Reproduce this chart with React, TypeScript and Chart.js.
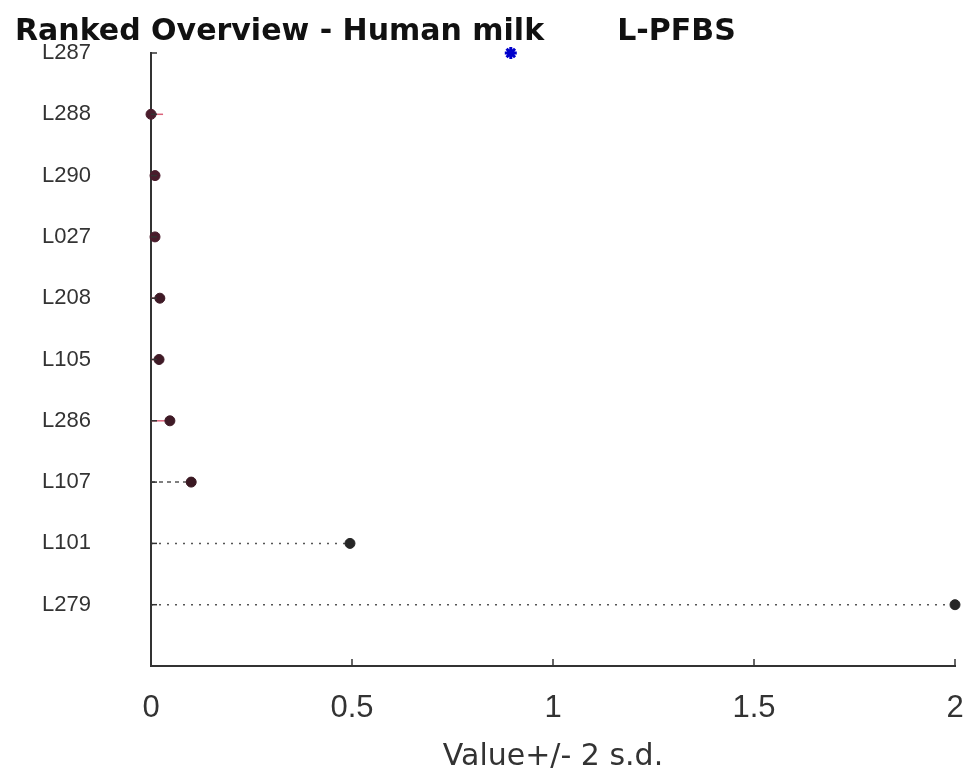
import React, { useEffect, useRef } from 'react';
import { Chart, registerables } from 'chart.js';

Chart.register(...registerables);

// ---- data ----
const names = ['L287', 'L288', 'L290', 'L027', 'L208', 'L105', 'L286', 'L107', 'L101', 'L279'];
const values = [0.895, 0.0, 0.01, 0.01, 0.022, 0.02, 0.047, 0.1, 0.495, 2.0];
const markerColors = ['#0000cc', '#4a1c2c', '#4a1c2c', '#4a1c2c', '#3f1a26', '#3f1a26', '#3f1a26', '#3a1822', '#262626', '#262626'];
const markerStyles = ['star', 'circle', 'circle', 'circle', 'circle', 'circle', 'circle', 'circle', 'circle', 'circle'];
// value +/- 2 s.d. (red bars, clipped at 0)
const errLow = [null, 0, 0, 0, 0, 0, 0, null, null, null];
const errHigh = [null, 0.03, 0.02, 0.02, 0.025, 0.025, 0.045, null, null, null];
// dotted guide lines from 0 to the value
const guideFrom = [null, null, null, null, null, null, null, 0, 0, 0];
const xTickValues = [0, 0.5, 1, 1.5, 2];
const xTickLabels = ['0', '0.5', '1', '1.5', '2'];

const titleText = 'Ranked Overview - Human milk       L-PFBS';
const xTitle = 'Value+/- 2 s.d.';

export default function App() {
  const ref = useRef<HTMLCanvasElement>(null);

  useEffect(() => {
    if (!ref.current) return;
    const rows = names.length;
    const rowY = (i: number) => rows - i;
    const datasets: any[] = [];
    names.forEach((_, i) => {
      if (errLow[i] != null && errHigh[i] != null) {
        datasets.push({
          type: 'line',
          data: [{ x: errLow[i], y: rowY(i) }, { x: errHigh[i], y: rowY(i) }],
          borderColor: 'rgba(210,60,90,0.8)',
          borderWidth: 1.5,
          pointRadius: 0,
          showLine: true,
          clip: false,
          order: 3,
        });
      }
      if (guideFrom[i] != null) {
        datasets.push({
          type: 'line',
          data: [{ x: guideFrom[i], y: rowY(i) }, { x: values[i], y: rowY(i) }],
          borderColor: '#555555',
          borderWidth: 1.5,
          borderDash: i === 7 ? [4, 4] : [2, 6],
          pointRadius: 0,
          showLine: true,
          clip: false,
          order: 2,
        });
      }
    });
    datasets.push({
      type: 'scatter',
      data: values.map((v, i) => ({ x: v, y: rowY(i) })),
      pointStyle: markerStyles,
      pointRadius: markerStyles.map((s) => (s === 'star' ? 6 : 5)),
      pointBorderWidth: markerStyles.map((s) => (s === 'star' ? 3 : 1)),
      backgroundColor: markerColors,
      borderColor: markerColors,
      clip: false,
      order: 1,
    });

    const innerTicks = {
      id: 'innerTicks',
      afterDraw(chart: any) {
        const { ctx, scales, chartArea: a } = chart;
        const x = scales.x;
        const y = scales.y;
        ctx.save();
        ctx.strokeStyle = '#333333';
        ctx.lineWidth = 1.5;
        xTickValues.forEach((v) => {
          if (v === 0) return;
          const px = x.getPixelForValue(v);
          ctx.beginPath();
          ctx.moveTo(px, a.bottom);
          ctx.lineTo(px, a.bottom - 7);
          ctx.stroke();
        });
        names.forEach((_, i) => {
          const py = y.getPixelForValue(rowY(i));
          ctx.beginPath();
          ctx.moveTo(a.left, py);
          ctx.lineTo(a.left + 6, py);
          ctx.stroke();
        });
        ctx.restore();
      },
    };

    const chart = new Chart(ref.current, {
      type: 'scatter',
      data: { datasets },
      options: {
        animation: false,
        responsive: false,
        devicePixelRatio: 1,
        layout: { padding: { left: 15, right: 14, top: 0, bottom: 0 } },
        plugins: {
          legend: { display: false },
          tooltip: { enabled: false },
          title: {
            display: true,
            text: titleText,
            align: 'start',
            color: '#111111',
            font: { family: '"DejaVu Sans"', size: 30, weight: 'bold' },
            padding: { top: 14, bottom: 3 },
          },
        },
        scales: {
          x: {
            type: 'linear',
            min: 0,
            max: 2,
            afterBuildTicks: (s: any) => {
              s.ticks = xTickValues.map((v) => ({ value: v }));
            },
            ticks: {
              callback: (v: any) => {
                const k = xTickValues.indexOf(Number(v));
                return k >= 0 ? xTickLabels[k] : '';
              },
              font: { family: '"Liberation Sans", Arial', size: 31 },
              color: '#333333',
              padding: 24,
              maxRotation: 0,
              autoSkip: false,
            },
            grid: { drawOnChartArea: false, drawTicks: false },
            border: { color: '#333333', width: 2 },
            title: {
              display: true,
              text: xTitle,
              color: '#333333',
              font: { family: '"DejaVu Sans"', size: 30 },
              padding: { top: 0, bottom: 1 },
            },
            afterFit: (s: any) => {
              s.height = 110;
              s.paddingLeft = 0;
              s.paddingRight = 0;
            },
          },
          y: {
            type: 'linear',
            min: 0,
            max: names.length,
            afterBuildTicks: (s: any) => {
              s.ticks = names.map((_, i) => ({ value: rowY(i) })).reverse();
            },
            ticks: {
              callback: (v: any) => {
                const i = rows - Number(v);
                return i >= 0 && i < rows ? names[i] : '';
              },
              font: { family: '"Liberation Sans", Arial', size: 22 },
              color: '#333333',
              padding: 60,
              autoSkip: false,
            },
            grid: { drawOnChartArea: false, drawTicks: false },
            border: { color: '#333333', width: 2 },
            afterFit: (s: any) => {
              s.width = 136;
              s.paddingTop = 0;
              s.paddingBottom = 0;
            },
          },
        },
      },
      plugins: [innerTicks],
    } as any);

    return () => chart.destroy();
  }, []);

  return (
    <div style={{ position: 'fixed', left: 0, top: 0, width: 969, height: 776, background: '#ffffff' }}>
      <canvas ref={ref} width={969} height={776} style={{ display: 'block', width: 969, height: 776 }} />
    </div>
  );
}
